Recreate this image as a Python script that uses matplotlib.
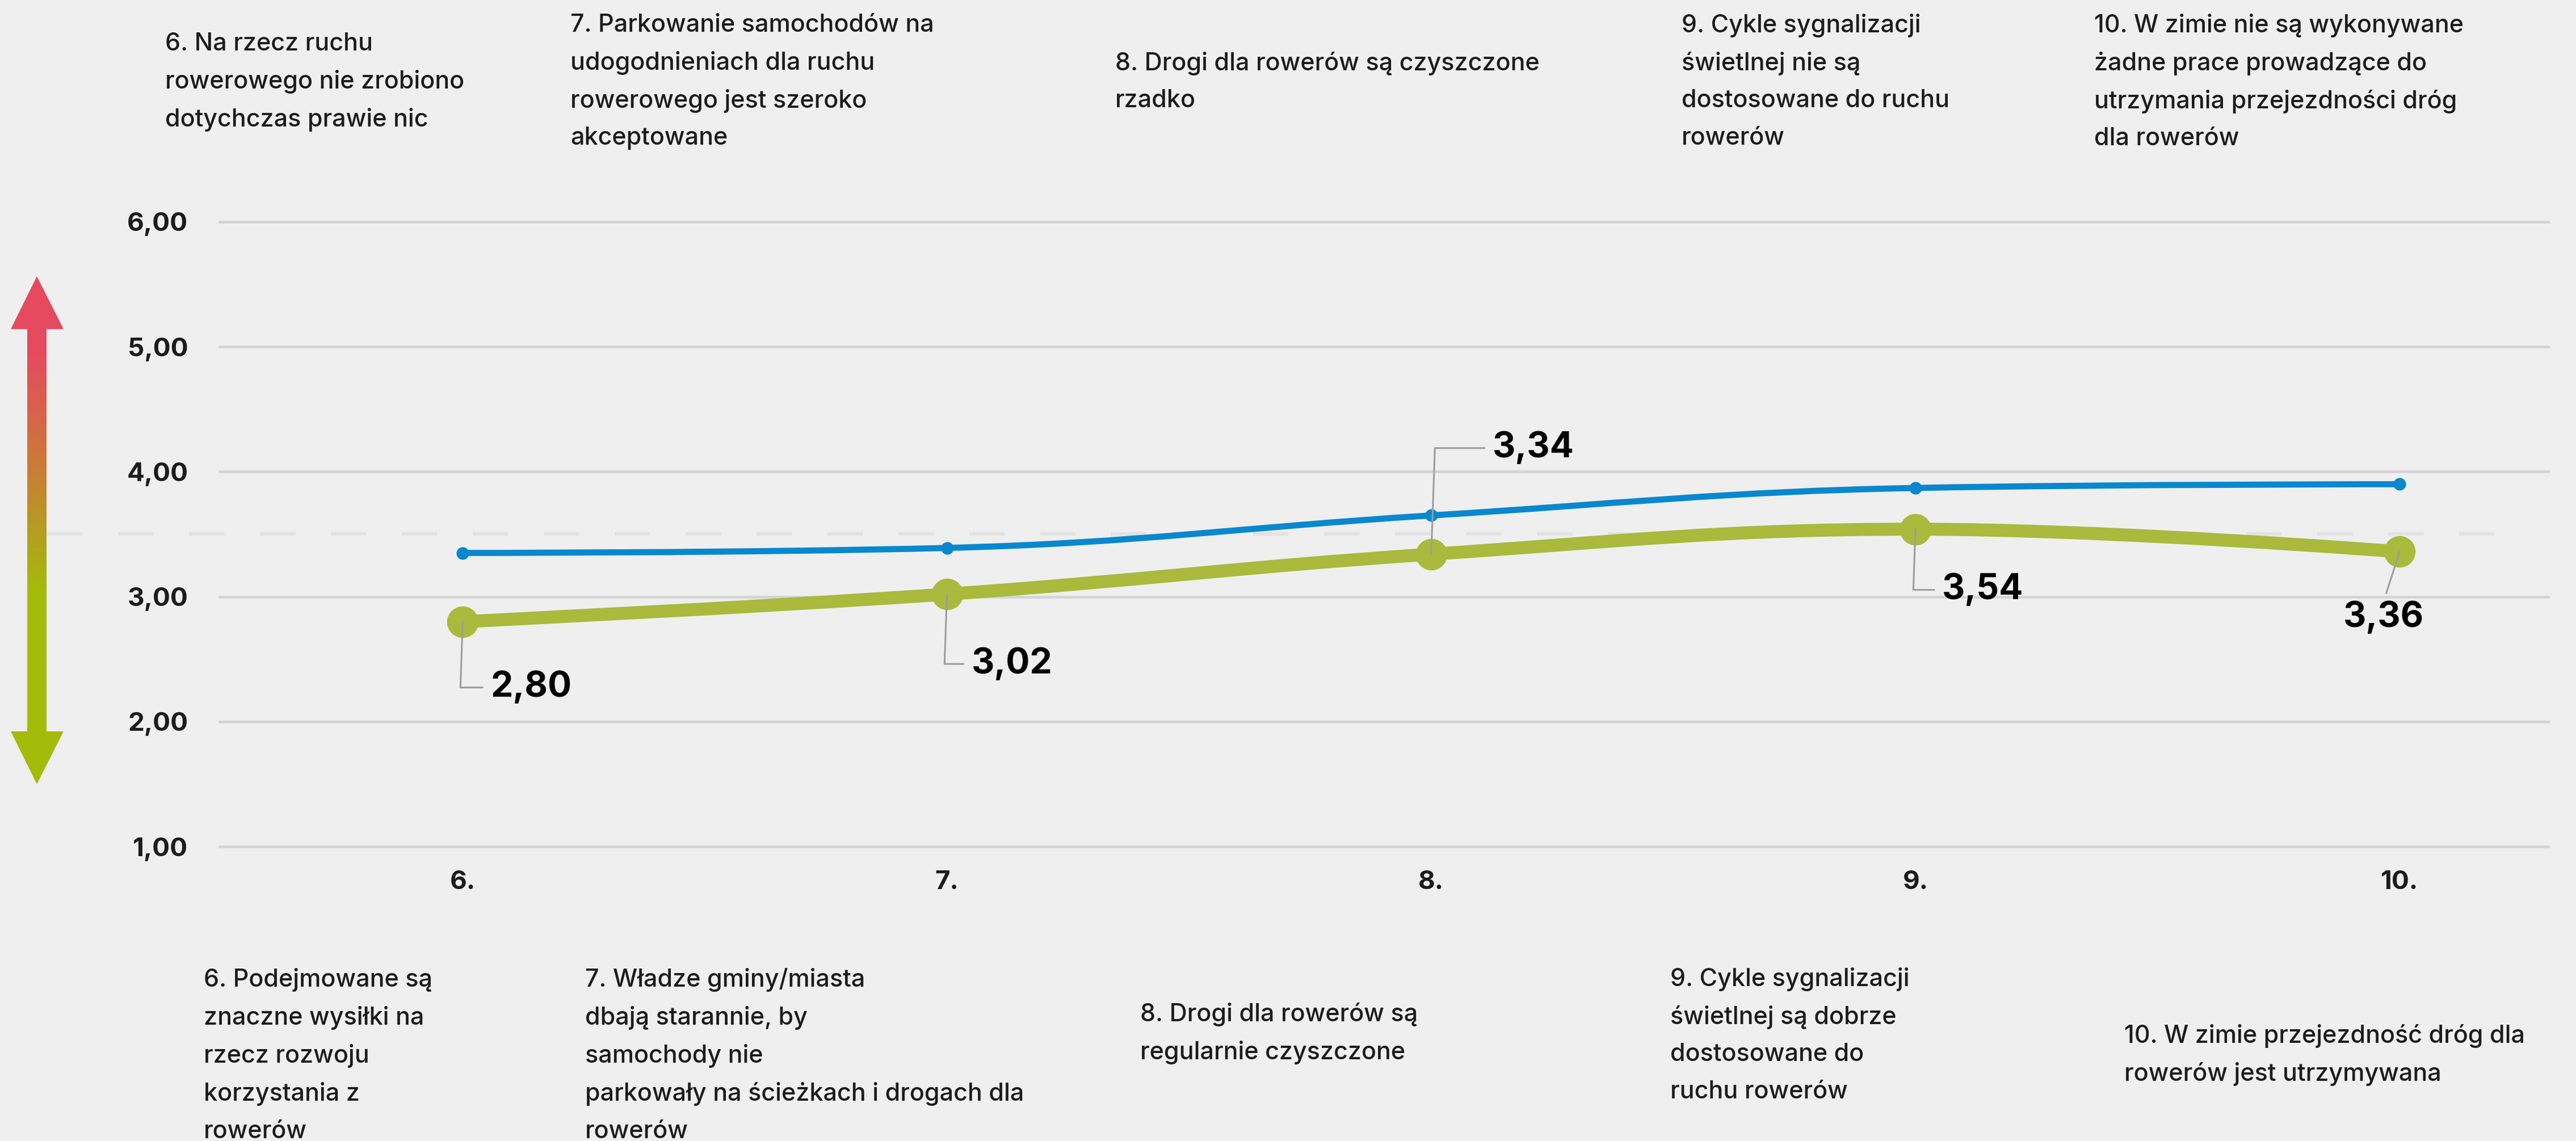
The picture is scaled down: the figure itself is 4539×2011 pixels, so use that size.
import numpy as np
import matplotlib
matplotlib.use("Agg")
from matplotlib import pyplot as plt
from matplotlib.path import Path
from matplotlib.patches import PathPatch, Polygon
from matplotlib.colors import LinearSegmentedColormap

plt.rcParams['font.family'] = ['Inter', 'DejaVu Sans']

# data
categories = [6, 7, 8, 9, 10]
tick_labels = ['6.', '7.', '8.', '9.', '10.']
blue_values = [3.35, 3.39, 3.65, 3.87, 3.90]
green_values = [2.80, 3.02, 3.34, 3.54, 3.36]
green_labels = ['2,80', '3,02', '3,34', '3,54', '3,36']
y_ticks = [1, 2, 3, 4, 5, 6]
y_tick_labels = ['1,00', '2,00', '3,00', '4,00', '5,00', '6,00']
top_texts = [
    "6. Na rzecz ruchu\nrowerowego nie zrobiono\ndotychczas prawie nic",
    "7. Parkowanie samochodów na\nudogodnieniach dla ruchu\nrowerowego jest szeroko\nakceptowane",
    "8. Drogi dla rowerów są czyszczone\nrzadko",
    "9. Cykle sygnalizacji\nświetlnej nie są\ndostosowane do ruchu\nrowerów",
    "10. W zimie nie są wykonywane\nżadne prace prowadzące do\nutrzymania przejezdności dróg\ndla rowerów",
]
bottom_texts = [
    "6. Podejmowane są\nznaczne wysiłki na\nrzecz rozwoju\nkorzystania z\nrowerów",
    "7. Władze gminy/miasta\ndbają starannie, by\nsamochody nie\nparkowały na ścieżkach i drogach dla\nrowerów",
    "8. Drogi dla rowerów są\nregularnie czyszczone",
    "9. Cykle sygnalizacji\nświetlnej są dobrze\ndostosowane do\nruchu rowerów",
    "10. W zimie przejezdność dróg dla\nrowerów jest utrzymywana",
]

# layout (pixels)
W, H = 4539, 2011
BG = '#efefef'
BLUE = '#0888cf'
GREEN = '#a8bb3d'
TXT = '#1c1c1c'
top_pos = [(291, 75), (1005, 42), (1965, 109), (2963, 42), (3690, 42)]
bottom_pos = [(359, 1724), (1031, 1724), (2009, 1785), (2943, 1723), (3743, 1823)]
label_offsets = [(49, -116), (43, -123), (108, 187), (47, -107), (-28, -116)]
label_ha = ['left', 'left', 'left', 'left', 'center']


def spline_path(xs, ys, smoothing=1.5):
    # highcharts-like spline through the points
    n = len(xs)
    right = [(xs[i], ys[i]) for i in range(n)]
    left = [(xs[i], ys[i]) for i in range(n)]
    d = smoothing + 1
    for i in range(1, n - 1):
        px, py = xs[i], ys[i]
        lx, ly = xs[i - 1], ys[i - 1]
        nx, ny = xs[i + 1], ys[i + 1]
        lcx = (smoothing * px + lx) / d
        lcy = (smoothing * py + ly) / d
        rcx = (smoothing * px + nx) / d
        rcy = (smoothing * py + ny) / d
        corr = (rcy - lcy) * (rcx - px) / (rcx - lcx) + py - rcy
        lcy += corr
        rcy += corr
        if lcy > ly and lcy > py:
            lcy = max(ly, py)
            rcy = 2 * py - lcy
        elif lcy < ly and lcy < py:
            lcy = min(ly, py)
            rcy = 2 * py - lcy
        if rcy > ny and rcy > py:
            rcy = max(ny, py)
            lcy = 2 * py - rcy
        elif rcy < ny and rcy < py:
            rcy = min(ny, py)
            lcy = 2 * py - rcy
        left[i] = (lcx, lcy)
        right[i] = (rcx, rcy)
    verts = [(xs[0], ys[0])]
    codes = [Path.MOVETO]
    for i in range(1, n):
        verts += [right[i - 1], left[i], (xs[i], ys[i])]
        codes += [Path.CURVE4] * 3
    return Path(verts, codes)


fig = plt.figure(figsize=(W / 100, H / 100), dpi=100)
fig.patch.set_facecolor(BG)

# overlay in pixel coordinates for texts and the arrow
ov = fig.add_axes([0, 0, 1, 1], zorder=0)
ov.set_xlim(0, W)
ov.set_ylim(H, 0)
ov.axis('off')
ov.patch.set_alpha(0)

# main chart
x0, x1 = 387, 4490
ax = fig.add_axes([x0 / W, 1 - 1492 / H, (x1 - x0) / W, (1492 - 391) / H], zorder=1)
ax.set_facecolor('none')
ax.set_xlim(5.498, 5.498 + (x1 - x0) / 853.25)
ax.set_ylim(1, 6)
for s in ax.spines.values():
    s.set_visible(False)
for yv in y_ticks:
    ax.axhline(yv, color='#d5d5d5', lw=3.5, clip_on=False, zorder=1)
ax.plot([-(x0 - 83) / (x1 - x0), 0.99], [3.5, 3.5], transform=ax.get_yaxis_transform(),
        color='#e2e2e2', lw=4.5, dashes=(10, 10), clip_on=False, zorder=1)

ax.set_yticks(y_ticks)
ax.set_yticklabels(y_tick_labels)
ax.set_xticks(categories)
ax.set_xticklabels(tick_labels)
ax.tick_params(length=0, labelsize=33, labelcolor=TXT, pad=30)
ax.tick_params(axis='y', pad=40)
for t in ax.get_xticklabels() + ax.get_yticklabels():
    t.set_fontweight('bold')

ax.add_patch(PathPatch(spline_path(categories, blue_values), fill=False, edgecolor=BLUE,
                       lw=7.8, capstyle='round', joinstyle='round', zorder=3, clip_on=False))
ax.plot(categories, blue_values, 'o', color=BLUE, ms=16, mew=0, zorder=4, clip_on=False)
ax.add_patch(PathPatch(spline_path(categories, green_values), fill=False, edgecolor=GREEN,
                       lw=16.5, capstyle='round', joinstyle='round', zorder=5, clip_on=False))
ax.plot(categories, green_values, 'o', color=GREEN, ms=40, mew=0, zorder=6, clip_on=False)

for i, (xv, yv) in enumerate(zip(categories, green_values)):
    dx, dy = label_offsets[i]
    if label_ha[i] == 'center':
        cs = 'arc3'
        rp = (0.5, 1.0)
    else:
        cs = 'angle,angleA=0,angleB=88,rad=0'
        rp = (0.0, 0.5)
    ax.annotate(green_labels[i], xy=(xv, yv), xytext=(dx * 0.72, dy * 0.72),
                textcoords='offset points', ha=label_ha[i], va='center',
                fontsize=45, fontweight='bold', color='#000000', zorder=8,
                arrowprops=dict(arrowstyle='-', color='#9d9d9d', lw=2.2,
                                connectionstyle=cs, relpos=rp,
                                shrinkA=8, shrinkB=0),
                annotation_clip=False)

# gradient arrow
arrow_pts = [(65, 487), (112, 580), (82, 580), (82, 1289), (112, 1289), (65, 1382),
             (19, 1289), (48, 1289), (48, 580), (19, 580)]
poly = Polygon(arrow_pts, closed=True, facecolor='none', edgecolor='none')
ov.add_patch(poly)
cmap = LinearSegmentedColormap.from_list('rg', [
    (0.0, '#e54a5f'), (0.15, '#e54a5f'), (0.38, '#c97d36'),
    (0.51, '#b3a020'), (0.62, '#a3bc0a'), (1.0, '#a3bc0a')])
grad = np.linspace(0, 1, 400).reshape(-1, 1)
im = ov.imshow(grad, cmap=cmap, aspect='auto', extent=[19, 112, 1382, 487],
               origin='upper', interpolation='bilinear')
im.set_clip_path(poly)
ov.set_xlim(0, W)
ov.set_ylim(H, 0)

# category descriptions
for (px, py), t in zip(top_pos, top_texts):
    ov.text(px, py - 18, t, ha='left', va='top', fontsize=31, color=TXT,
            fontweight='medium', linespacing=1.76)
for (px, py), t in zip(bottom_pos, bottom_texts):
    ov.text(px, py - 18, t, ha='left', va='top', fontsize=31, color=TXT,
            fontweight='medium', linespacing=1.76)

fig.savefig('out.png', dpi=100, facecolor=BG)
